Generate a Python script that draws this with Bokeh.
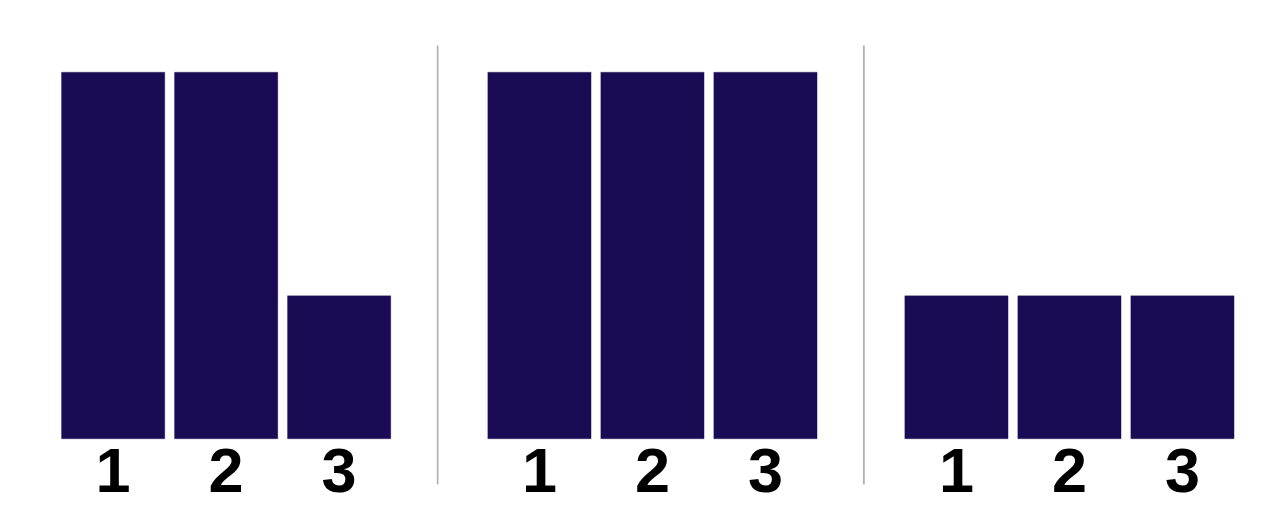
from bokeh.plotting import figure
from bokeh.layouts import row
from bokeh.models import Range1d, ColumnDataSource
from bokeh.core.properties import value
from bokeh.embed import file_html
from bokeh.resources import INLINE

# ---- data ----
categories = [1, 2, 3]
tick_labels = ["1", "2", "3"]
panel_a = [100, 100, 39]
panel_b = [100, 100, 100]
panel_c = [39, 39, 39]

BAR_COLOR = "#1a0b55"
SEP_COLOR = "#b3b3b3"

H = 524
PX_PER_X = 113.0           # pixels per category step
BAR_W = 0.914              # bar width in category units
ZERO_PX = 438.3            # pixel row of value 0
TOP_PX = 71.7              # pixel row of value 100
S = (ZERO_PX - TOP_PX) / 100.0
y0 = -(H - ZERO_PX) / S
y1 = 100 + TOP_PX / S


def px_to_y(py):
    return (ZERO_PX - py) / S


def make_panel(vals, width, left_px, sep_px=None):
    xs = 1 - BAR_W / 2 - left_px / PX_PER_X
    p = figure(width=width, height=H, output_backend="svg", toolbar_location=None,
               x_range=Range1d(xs, xs + width / PX_PER_X), y_range=Range1d(y0, y1),
               min_border=0, outline_line_color=None,
               x_axis_type=None, y_axis_type=None)
    p.grid.visible = False
    src = ColumnDataSource(dict(x=categories, top=vals, label=tick_labels))
    p.vbar(x="x", top="top", bottom=0, width=BAR_W, source=src,
           fill_color=BAR_COLOR, line_color=BAR_COLOR, line_width=0.3)
    p.text(x="x", y=px_to_y(470), text="label", source=src,
           text_font=value("Liberation Sans"), text_font_style="bold",
           text_font_size="63px", text_color="black",
           text_align="center", text_baseline="middle")
    if sep_px is not None:
        sx = xs + sep_px / PX_PER_X
        p.segment(x0=[sx], y0=[px_to_y(45)], x1=[sx], y1=[px_to_y(484)],
                  line_color=SEP_COLOR, line_width=2)
    return p


p1 = make_panel(panel_a, 436, 61.0)
p2 = make_panel(panel_b, 426, 51.3, sep_px=1.0)
p3 = make_panel(panel_c, 412, 42.3, sep_px=1.3)

layout = row(p1, p2, p3, spacing=0)
open("out.html", "w").write(file_html(layout, INLINE))
